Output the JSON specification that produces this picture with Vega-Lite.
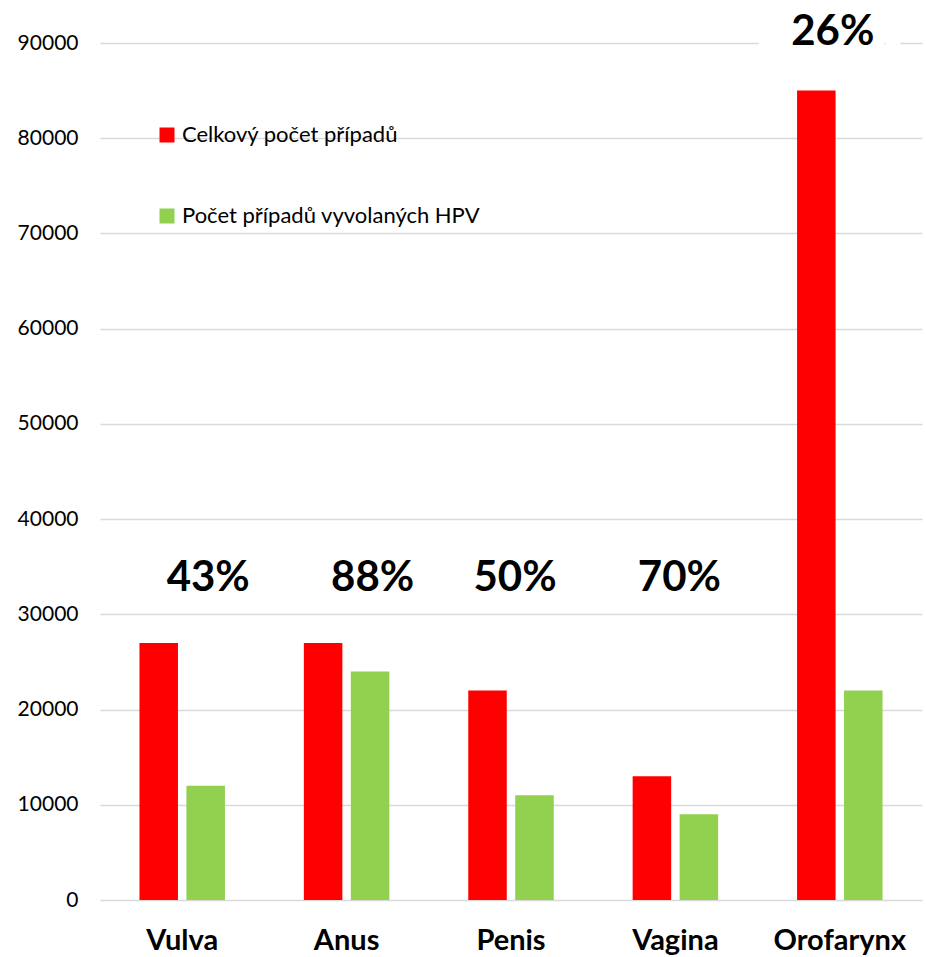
{
  "$schema": "https://vega.github.io/schema/vega-lite/v6.json",
  "width": 822,
  "height": 857,
  "autosize": {"type": "none"},
  "padding": {"left": 100, "top": 43, "right": 4, "bottom": 57},
  "background": "white",
  "config": {"view": {"stroke": null}, "font": "Lato"},
  "datasets": {
    "bars": [
      {"site": "Vulva", "series": "Celkový počet případů", "value": 27000},
      {"site": "Vulva", "series": "Počet případů vyvolaných HPV", "value": 12000},
      {"site": "Anus", "series": "Celkový počet případů", "value": 27000},
      {"site": "Anus", "series": "Počet případů vyvolaných HPV", "value": 24000},
      {"site": "Penis", "series": "Celkový počet případů", "value": 22000},
      {"site": "Penis", "series": "Počet případů vyvolaných HPV", "value": 11000},
      {"site": "Vagina", "series": "Celkový počet případů", "value": 13000},
      {"site": "Vagina", "series": "Počet případů vyvolaných HPV", "value": 9000},
      {"site": "Orofarynx", "series": "Celkový počet případů", "value": 85000},
      {"site": "Orofarynx", "series": "Počet případů vyvolaných HPV", "value": 22000}
    ],
    "labels": [
      {"site": "Vulva", "label": "43%", "labelY": 33800},
      {"site": "Anus", "label": "88%", "labelY": 33800},
      {"site": "Penis", "label": "50%", "labelY": 33800},
      {"site": "Vagina", "label": "70%", "labelY": 33800},
      {"site": "Orofarynx", "label": "26%", "labelY": 91200}
    ]
  },
  "layer": [
    {
      "data": {"name": "bars"},
      "mark": {"type": "bar"},
      "encoding": {
        "x": {
          "field": "site",
          "type": "nominal",
          "sort": ["Vulva", "Anus", "Penis", "Vagina", "Orofarynx"],
          "scale": {"paddingInner": 0.48, "paddingOuter": 0.24},
          "axis": {
            "title": null,
            "labelAngle": 0,
            "labelFont": "Lato",
            "labelFontSize": 29,
            "labelFontWeight": "bold",
            "labelColor": "#000000",
            "labelPadding": 26,
            "labelBaseline": "top",
            "ticks": false,
            "domain": false
          }
        },
        "xOffset": {
          "field": "series",
          "type": "nominal",
          "sort": ["Celkový počet případů", "Počet případů vyvolaných HPV"],
          "scale": {"paddingInner": 0.18}
        },
        "y": {
          "field": "value",
          "type": "quantitative",
          "scale": {"domain": [0, 90000], "nice": false},
          "axis": {
            "title": null,
            "values": [0, 10000, 20000, 30000, 40000, 50000, 60000, 70000, 80000, 90000],
            "format": "d",
            "labelFont": "Lato",
            "labelFontSize": 21,
            "labelColor": "#000000",
            "labelPadding": 22,
            "ticks": false,
            "domain": false,
            "grid": true,
            "gridColor": "#d9d9d9",
            "gridWidth": 1.5
          }
        },
        "color": {
          "field": "series",
          "type": "nominal",
          "scale": {
            "domain": ["Celkový počet případů", "Počet případů vyvolaných HPV"],
            "range": ["#ff0000", "#92d050"]
          },
          "legend": {
            "title": null,
            "orient": "none",
            "legendX": 56,
            "legendY": 81,
            "symbolType": "square",
            "symbolSize": 225,
            "symbolStrokeWidth": 0,
            "labelFont": "Lato",
            "labelFontSize": 22,
            "labelColor": "#000000",
            "labelOffset": 4,
            "rowPadding": 59,
            "labelLimit": 400
          }
        }
      }
    },
    {
      "data": {"name": "labels"},
      "transform": [{"filter": "datum.site === 'Orofarynx'"}],
      "mark": {
        "type": "text",
        "font": "Lato",
        "fontSize": 42,
        "fontWeight": "bold",
        "stroke": "white",
        "strokeWidth": 56,
        "fill": "white",
        "baseline": "middle",
        "dx": -7,
        "clip": false
      },
      "encoding": {
        "x": {"field": "site", "type": "nominal", "sort": ["Vulva", "Anus", "Penis", "Vagina", "Orofarynx"]},
        "y": {"field": "labelY", "type": "quantitative"},
        "text": {"field": "label"}
      }
    },
    {
      "data": {"name": "labels"},
      "transform": [{"filter": "datum.site === 'Vulva' || datum.site === 'Anus'"}],
      "mark": {
        "type": "text",
        "font": "Lato",
        "fontSize": 42,
        "fontWeight": "bold",
        "color": "#000000",
        "baseline": "middle",
        "dx": 26,
        "clip": false
      },
      "encoding": {
        "x": {"field": "site", "type": "nominal", "sort": ["Vulva", "Anus", "Penis", "Vagina", "Orofarynx"]},
        "y": {"field": "labelY", "type": "quantitative"},
        "text": {"field": "label"}
      }
    },
    {
      "data": {"name": "labels"},
      "transform": [{"filter": "datum.site === 'Penis' || datum.site === 'Vagina'"}],
      "mark": {
        "type": "text",
        "font": "Lato",
        "fontSize": 42,
        "fontWeight": "bold",
        "color": "#000000",
        "baseline": "middle",
        "dx": 4,
        "clip": false
      },
      "encoding": {
        "x": {"field": "site", "type": "nominal", "sort": ["Vulva", "Anus", "Penis", "Vagina", "Orofarynx"]},
        "y": {"field": "labelY", "type": "quantitative"},
        "text": {"field": "label"}
      }
    },
    {
      "data": {"name": "labels"},
      "transform": [{"filter": "datum.site === 'Orofarynx'"}],
      "mark": {
        "type": "text",
        "font": "Lato",
        "fontSize": 42,
        "fontWeight": "bold",
        "color": "#000000",
        "baseline": "middle",
        "dx": -7,
        "clip": false
      },
      "encoding": {
        "x": {"field": "site", "type": "nominal", "sort": ["Vulva", "Anus", "Penis", "Vagina", "Orofarynx"]},
        "y": {"field": "labelY", "type": "quantitative"},
        "text": {"field": "label"}
      }
    }
  ]
}
